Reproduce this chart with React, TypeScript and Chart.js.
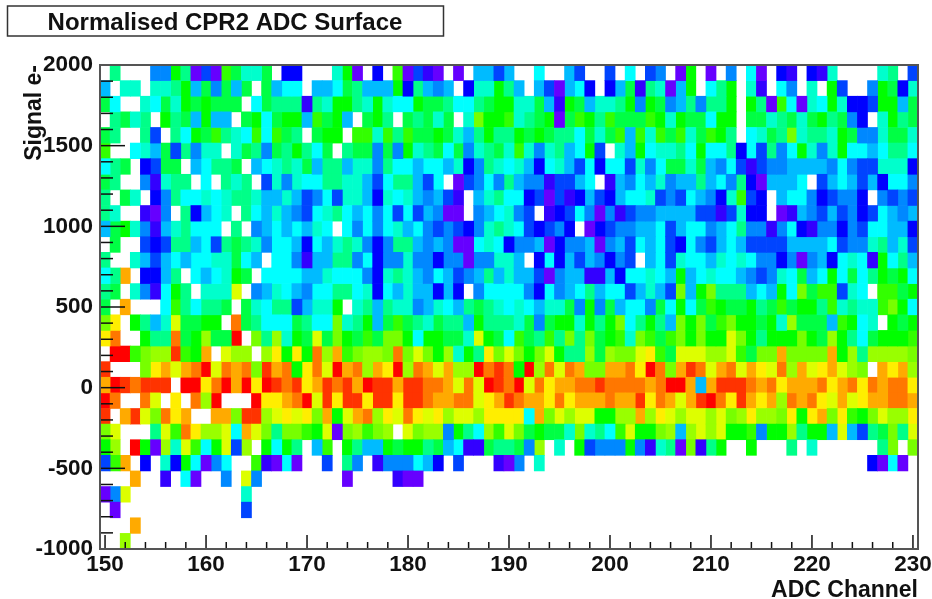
import React, { useEffect, useRef } from "react";
import { Chart, registerables } from "chart.js";

Chart.register(...registerables);

// Colour-scale levels: index in this list + 1 is the cell's z level.
const levelCodes = "abcdefghijklmnopqrst";
const levelColors = [
  "#6600ff", "#3300ff", "#0000ff", "#0044ff", "#0088ff", "#00bbff", "#00ffff", "#00ffcc", "#00ff88", "#00ff44",
  "#00ff00", "#33ff00", "#77ff00", "#99ff00", "#ddff00", "#ffee00", "#ffaa00", "#ff7700", "#ff3300", "#ff0000",
];

// Bins: columns are ADC channels 150..230, rows run from the top (2000) down (-1000).
const firstChannel = 150;
const signalTop = 2000;
const signalBinWidth = 3000 / 31;

const rows: string[] = [
  ".i...eekiadaljhhj.cc" + "...hka.c.ladba.a.ffd" + "f..g..fd..d.g.de.ak." + "a.e.ga.cb.cbh....hi.d",
  "f.hh.hhikfjejfj.jfgg" + ".ffgjifffkcifef.chhk" + "if.fdafgc.cfjbihafk." + "gik.hb.ge.h.kd..ekjch",
  "jg..hgjhkjkjjj.gjiii" + "bihkkihkhggkjjiggijk" + "khhjfbkjfhhikekjefie" + "iik.kialgahgkhccdkkfj",
  ".ijhi.kijfkff.jkgjkk" + "fljkf.jki.jijhj.hmkk" + "lhijkajlkiljjjlkhkjj" + "gkk.jjhijhjkijec.hkij",
  "ji..id.igkjlihglglji" + ".jkk.llhliljjkjhfiki" + "ikjkjiigjhjlflhljlhj" + "lki.ghjimhiihkjeehjjh",
  "l..ghfjdiehh.hjiejik" + "igj.ijjejekhijgjehij" + "hlhehifgkd.hfkghhigk" + "ggicgdiegkhehkggfgiig",
  "gij.cdjj.fgiij.fghih" + "jfiifhheiggfggfhceih" + "ghfcghfdgcggdhegjjhj" + "fegdbdeeffffegeddhhhc",
  "ji..ebhii.g.ihi.dheh" + "ggiihhfdgiifdg.adege" + "ifeebddfg.bfegfheffi" + "fgeicafffg.dfgfdfcgge",
  "i.jh.ceigghghiihffhf" + "degdhhfchghfefdb.fhi" + "ggcdadbcfdcfgghdedgf" + "echldc.fggecdeec.eded",
  "ih..bae.icfgh.igfhfe" + "dghigfgegdgdfeaa.efg" + "hed.bcdgeaebdeeffffd" + "dbdhcc.abfedfdecdgfef",
  "fjkhebfhiggg.i.efgfg" + "fhg.gegeghfgededcehi" + "hgdcdec.acdeeffgdfgg" + "efgieebegcbeecedggffc",
  ".j..dcdiifgdijiheggf" + "cgfhiheceiifefeaaghg" + "ceefaceefaefdgfgdcge" + "dfgfddddffffgdeehifhd",
  "i..hfdfgfgghhjgf.gge" + "bffiiegceeheeceeaeeh" + "hf.cgcfdfeced.fgdhgg" + "fhghgeeceaefcghgbkgif",
  "giq.ccfi.gfghkj.gggg" + "ffhgggechihfegfdefif" + "hffdaeffbbfcgghgfkfg" + "hggfedehgjfgkgjgikjkg",
  "ij.hebgki.hhho.efhgf" + "eggiighcgfhffcfc.egg" + "ggecgefgifggdfhfdmfk" + "miiifgfkgmjlldhg.lljk",
  "j.q...gligiij.jhgiid" + "fhhk.hifihhefhgfijih" + "ghgfhhjekejfggejgkgj" + "lkjjkijljkkilhihhlmkg",
  "mp.kifhojjkk.rjigggj" + "iggmhikfjljihjiifkii" + "ihjejkkhkikmgikifmkm" + "jlmkkjkhnjjjflkgh.kjk",
  "pr..kiirjknjjt.minhk" + "jojmkjljmmkgkkjjhokj" + "gljilimimjklhmljlmkm" + "kkomkikkkmkjnkigjkkkl",
  ".ttlmnnslkq.onn.npkp" + "krnqlmnnmrmomknhkipm" + "omkmokiinjnmmopljooo" + "nnoljmmqmmmmqkninnnnm",
  "s...mpqoqrtorqrmsqrk" + "protqrnqptnrqoqnntrs" + "rktnrorqmmqqrptrmqsr" + "oqroqpornqopqonm.qpqn",
  "qtsrsss.ttprtqtptsrs" + "pqsrsqtssqssrrqorots" + "rtorpqqrrsrrrrqrttqf" + "qsssrqrpqqqrpqrprqrrp",
  "tr..ro.p.rnt...tppqr" + "tospsspsspssrqqrropq" + "srqqprpqqqr" + "qqsprqoqstrpsqpqnrqrpoqopqqrrq",
  "s.qsomrpq..qqmssnopo" + "pmqkoqrnporpopnoonppppgqmonookk" + "nnqnponoonomnpnnmpkpqmplkmonnp",
  "mo...iolrpnnogqomimm" + "lkoamnlmn.omnnekignlomjkjjhmhig" + "lokkmnfnonokklekknikkfofdijmio",
  "kn.tkanholgkodn.kgki" + ".fl.kiffkjkkijfgbbjiijen.h.kdee" + "ekebhiambik..k...i.h......im.m",
  "dlq.c.hckgaeg..lbaga" + "..d.ie.beeegfc.d...b" + "ae.h................................" + "caga.",
  "...q..b.ga..e.oe...." + "....a....baa",
  "aeo...........h",
  ".a............d",
  "...q",
  "..n",
];

const xTickValues = [150, 160, 170, 180, 190, 200, 210, 220, 230];
const yTickValues = [-1000, -500, 0, 500, 1000, 1500, 2000];
const xMinorStep = 2;
const yMinorStep = 100;

const titleText = "Normalised CPR2 ADC Surface";
const xTitle = "ADC Channel";
const yTitle = "Signal e-";
const fontFamily = '"Liberation Sans", Arial, sans-serif';

type Cell = { x: number; y: [number, number] };

function cellsForLevel(code: string): Cell[] {
  const cells: Cell[] = [];
  rows.forEach((row, r) => {
    for (let c = 0; c < row.length; c++) {
      if (row[c] === code) {
        const hi = signalTop - r * signalBinWidth;
        cells.push({ x: firstChannel + c, y: [hi - signalBinWidth, hi] });
      }
    }
  });
  return cells;
}

const framePlugin = {
  id: "rootFrame",
  afterDatasetsDraw(chart: any) {
    const { ctx, chartArea: a, scales } = chart;
    ctx.save();
    // inward tick marks
    ctx.strokeStyle = "#111";
    ctx.lineWidth = 1.5;
    for (let v = -1000; v <= 2000; v += yMinorStep) {
      const py = scales.y.getPixelForValue(v);
      const len = v % 500 === 0 ? 25 : 13;
      ctx.beginPath();
      ctx.moveTo(a.left, py);
      ctx.lineTo(a.left + len, py);
      ctx.stroke();
    }
    for (let v = 150; v <= 230; v += xMinorStep) {
      const px = scales.x.getPixelForValue(v);
      const len = v % 10 === 0 ? 14 : 7;
      ctx.beginPath();
      ctx.moveTo(px, a.bottom);
      ctx.lineTo(px, a.bottom - len);
      ctx.stroke();
    }
    // frame
    ctx.strokeStyle = "#555";
    ctx.lineWidth = 2;
    ctx.strokeRect(a.left, a.top, a.right - a.left, a.bottom - a.top);
    // title box
    ctx.strokeStyle = "#333";
    ctx.lineWidth = 1.5;
    ctx.strokeRect(7.5, 6, 436, 30);
    ctx.fillStyle = "#111";
    ctx.font = `bold 24px ${fontFamily}`;
    ctx.textAlign = "center";
    ctx.textBaseline = "middle";
    ctx.fillText(titleText, 225, 23);
    ctx.restore();
  },
};

export default function App() {
  const ref = useRef<HTMLCanvasElement | null>(null);
  useEffect(() => {
    const canvas = ref.current;
    if (!canvas) return;
    const chart = new Chart(canvas, {
      type: "bar",
      data: {
        datasets: levelColors.map((color, i) => ({
          label: `level ${i + 1}`,
          data: cellsForLevel(levelCodes[i]) as any,
          backgroundColor: color,
          borderWidth: 0,
          grouped: false,
          barPercentage: 1,
          categoryPercentage: 1,
        })),
      },
      options: {
        animation: false,
        responsive: false,
        layout: { padding: { top: 65, right: 14, left: 0, bottom: 0 } },
        plugins: { legend: { display: false }, tooltip: { enabled: false }, title: { display: false } },
        scales: {
          x: {
            type: "linear",
            offset: false,
            min: 149.5,
            max: 230.5,
            grid: { display: false, drawTicks: false, offset: false },
            border: { display: false },
            afterBuildTicks: (s: any) => {
              s.ticks = xTickValues.map((value) => ({ value }));
            },
            afterFit: (s: any) => {
              s.height = 50;
              s.paddingLeft = 0;
              s.paddingRight = 0;
            },
            ticks: {
              autoSkip: false,
              maxRotation: 0,
              padding: 2,
              color: "#111",
              font: { family: fontFamily, size: 22.5, weight: "bold" },
              callback: (v: any) => String(v),
            },
            title: {
              display: true,
              text: xTitle,
              align: "end",
              color: "#111",
              padding: { top: 0, bottom: -5 },
              font: { family: fontFamily, size: 23, weight: "bold" },
            },
          },
          y: {
            type: "linear",
            min: -1000,
            max: 2000,
            grid: { display: false, drawTicks: false },
            border: { display: false },
            afterBuildTicks: (s: any) => {
              s.ticks = yTickValues.map((value) => ({ value }));
            },
            afterFit: (s: any) => {
              s.width = 100;
              s.paddingTop = 0;
              s.paddingBottom = 0;
            },
            ticks: {
              autoSkip: false,
              padding: 7,
              color: "#111",
              font: { family: fontFamily, size: 22.5, weight: "bold" },
              callback: (v: any) => String(v),
            },
            title: {
              display: true,
              text: yTitle,
              align: "end",
              color: "#111",
              padding: { top: 21, bottom: 0 },
              font: { family: fontFamily, size: 23, weight: "bold" },
            },
          },
        },
      } as any,
      plugins: [framePlugin],
    });
    return () => chart.destroy();
  }, []);
  return (
    <div style={{ position: "absolute", left: 0, top: 0, width: 932, height: 599 }}>
      <canvas ref={ref} width={932} height={599} style={{ display: "block" }} />
    </div>
  );
}
